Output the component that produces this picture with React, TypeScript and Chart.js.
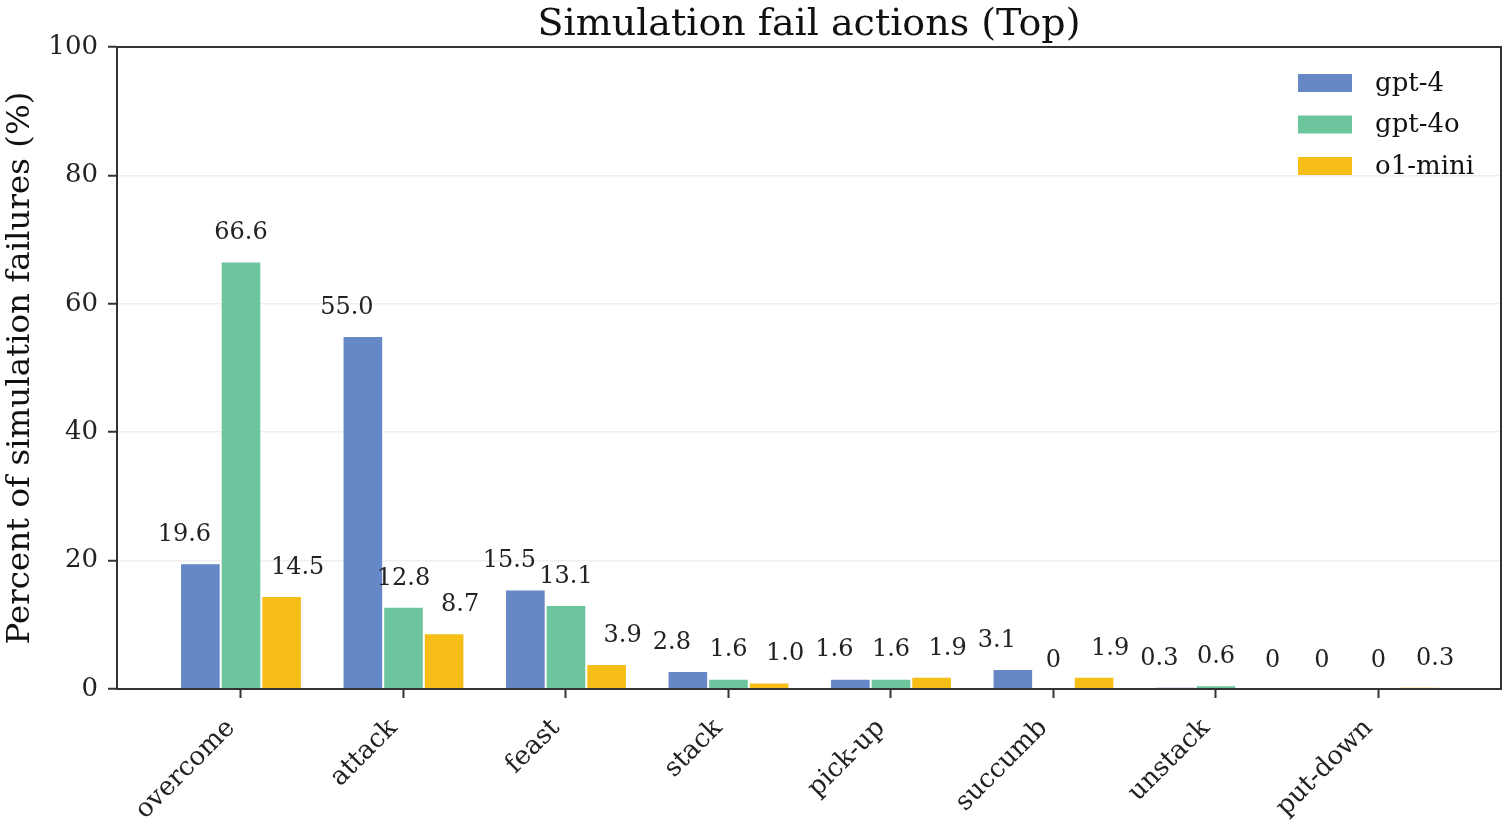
import React, { useEffect, useRef } from "react";
import { Chart, registerables } from "chart.js";

Chart.register(...registerables);

const categories = ["overcome", "attack", "feast", "stack", "pick-up", "succumb", "unstack", "put-down"];
const seriesNames = ["gpt-4", "gpt-4o", "o1-mini"];
const gpt4Values = [19.6, 55.0, 15.5, 2.8, 1.6, 3.1, 0.3, 0];
const gpt4oValues = [66.6, 12.8, 13.1, 1.6, 1.6, 0, 0.6, 0];
const o1miniValues = [14.5, 8.7, 3.9, 1.0, 1.9, 1.9, 0, 0.3];
const seriesColors = ["#6788c6", "#6cc59d", "#f6be17"];
const yTicks = [0, 20, 40, 60, 80, 100];

const TITLE = "Simulation fail actions (Top)";
const Y_LABEL = "Percent of simulation failures (%)";
const FONT = "'DejaVu Serif', serif";
const INK = "#222222";
const AXIS = "#333333";

const overlayPlugin = {
  id: "overlay",
  afterDatasetsDraw(chart: any) {
    const ctx = chart.ctx;
    const offsets = [-16, 0, 16];
    ctx.save();
    ctx.font = `24px ${FONT}`;
    ctx.fillStyle = INK;
    ctx.textAlign = "center";
    ctx.textBaseline = "middle";
    chart.data.datasets.forEach((ds: any, di: number) => {
      const meta = chart.getDatasetMeta(di);
      meta.data.forEach((el: any, i: number) => {
        const v = ds.data[i].y;
        const txt = v === 0 ? "0" : v.toFixed(1);
        ctx.fillText(txt, el.x + offsets[di], el.y - 28.5);
      });
    });
    ctx.restore();
  },
  afterDraw(chart: any) {
    const ctx = chart.ctx;
    const a = chart.chartArea;
    ctx.save();
    // frame
    ctx.strokeStyle = AXIS;
    ctx.lineWidth = 2;
    ctx.strokeRect(a.left, a.top, a.right - a.left, a.bottom - a.top);
    // title
    ctx.fillStyle = "#111111";
    ctx.font = `38px ${FONT}`;
    ctx.textAlign = "center";
    ctx.textBaseline = "alphabetic";
    ctx.fillText(TITLE, (a.left + a.right) / 2, 35);
    // y label
    ctx.save();
    ctx.translate(29, (a.top + a.bottom) / 2);
    ctx.rotate(-Math.PI / 2);
    ctx.font = `32.5px ${FONT}`;
    ctx.fillStyle = "#111111";
    ctx.textAlign = "center";
    ctx.textBaseline = "alphabetic";
    ctx.fillText(Y_LABEL, 0, 0);
    ctx.restore();
    // legend
    const bx = a.right - 203;
    const tx = a.right - 126;
    ctx.font = `26px ${FONT}`;
    ctx.textAlign = "left";
    ctx.textBaseline = "middle";
    seriesNames.forEach((name, i) => {
      const top = a.top + 27 + i * 41.5;
      ctx.fillStyle = seriesColors[i];
      ctx.fillRect(bx, top, 54, 18);
      ctx.fillStyle = "#111111";
      ctx.fillText(name, tx, top + 10);
    });
    ctx.restore();
  },
};

export default function App() {
  const ref = useRef<HTMLCanvasElement | null>(null);

  useEffect(() => {
    document.body.style.margin = "0";
    const series = [gpt4Values, gpt4oValues, o1miniValues];
    const chart = new Chart(ref.current as HTMLCanvasElement, {
      type: "bar",
      data: {
        datasets: series.map((vals, di) => ({
          label: seriesNames[di],
          data: vals.map((v, i) => ({ x: i, y: v })),
          backgroundColor: seriesColors[di],
          borderColor: "rgba(255,255,255,0.45)",
          borderWidth: 1,
          categoryPercentage: 0.75,
          barPercentage: 1.0,
        })),
      },
      options: {
        animation: false,
        responsive: true,
        maintainAspectRatio: false,
        layout: { padding: { top: 47, right: 6, left: 0, bottom: 0 } },
        plugins: {
          legend: { display: false },
          title: { display: false },
          tooltip: { enabled: false },
        },
        scales: {
          x: {
            type: "linear",
            position: "bottom",
            min: -0.763,
            max: 7.754,
            offset: false,
            grid: {
              display: true,
              offset: false,
              drawOnChartArea: false,
              drawTicks: true,
              tickLength: 9,
              tickColor: AXIS,
              tickWidth: 2,
            },
            border: { display: true, color: AXIS, width: 2 },
            ticks: {
              stepSize: 1,
              includeBounds: false,
              autoSkip: false,
              minRotation: 45,
              maxRotation: 45,
              padding: 15,
              labelOffset: -10,
              color: INK,
              font: { family: FONT, size: 26 },
              callback: (v: any) => (Number.isInteger(v) && categories[v] !== undefined ? categories[v] : ""),
            },
            afterFit: (s: any) => {
              s.height = 133;
            },
          },
          y: {
            type: "linear",
            position: "left",
            min: 0,
            max: 100,
            z: 1,
            afterBuildTicks: (s: any) => {
              s.ticks = yTicks.map((v) => ({ value: v }));
            },
            grid: {
              color: "rgba(228,228,228,0.6)",
              lineWidth: 1.5,
              drawTicks: true,
              tickLength: 9,
              tickColor: AXIS,
              tickWidth: 2,
            },
            border: { display: true, color: AXIS, width: 2 },
            ticks: {
              stepSize: 20,
              padding: 10,
              color: INK,
              font: { family: FONT, size: 26 },
            },
            afterFit: (s: any) => {
              s.width = 117;
            },
          },
        },
      },
      plugins: [overlayPlugin],
    } as any);
    return () => chart.destroy();
  }, []);

  return (
    <div style={{ position: "relative", width: 1507, height: 822, background: "#fff" }}>
      <canvas ref={ref} />
    </div>
  );
}
